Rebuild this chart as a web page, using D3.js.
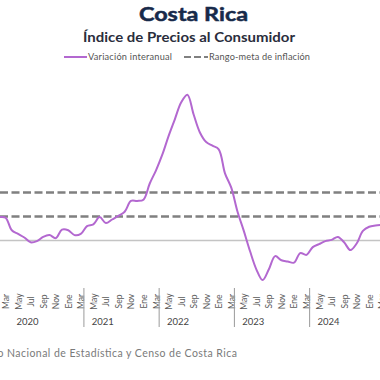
<!DOCTYPE html>
<html>
<head>
<meta charset="utf-8">
<script src="https://cdn.jsdelivr.net/npm/d3@7"></script>
<style>
  body { margin: 0; background: #fff; overflow: hidden; }
  svg { display: block; font-family: Lato, 'DejaVu Sans', sans-serif; }
</style>
</head>
<body>
<div id="graf"></div>
<script>
// datos: variación interanual del IPC, mensual desde Ene 2020
const meses = ['Ene', 'Feb', 'Mar', 'Abr', 'May', 'Jun', 'Jul', 'Ago', 'Sep', 'Oct', 'Nov', 'Dic']
const anios = [2020, 2021, 2022, 2023, 2024]
const variacion = [
  1.8, 1.95, 1.9, 0.85, 0.55, 0.25, -0.15, -0.05, 0.3, 0.45, 0.2, 0.9,
  0.85, 0.45, 0.55, 1.2, 1.35, 1.95, 1.45, 1.75, 2.05, 2.4, 3.3, 3.3,
  3.4, 4.75, 5.85, 7.15, 8.7, 10.1, 11.5, 12.15, 10.5, 9.0, 8.2, 7.9,
  7.6, 5.6, 4.4, 2.4, 0.8, -0.9, -2.4, -3.3, -2.4, -1.3, -1.65, -1.75,
  -1.85, -1.05, -1.2, -0.55, -0.3, -0.05, 0.05, 0.3, -0.15, -0.8, -0.25, 0.8,
  1.15, 1.25, 1.3
]
const rangoMeta = [2, 4]

const ancho = 380
const alto = 380

const svg = d3.select('#graf')
  .append('svg')
  .attr('width', ancho)
  .attr('height', alto)

// escalas (el gráfico original está recortado a la izquierda y derecha)
const x = d3.scaleLinear()
  .domain([0, 62])
  .range([-7, -7 + 6.27 * 62])

const y = d3.scaleLinear()
  .domain([-4, 13])
  .range([240.5 + 48, 240.5 - 156])

// títulos
svg.append('text')
  .attr('x', 193.5).attr('y', 20.7)
  .attr('text-anchor', 'middle')
  .attr('font-size', 19.5).attr('font-weight', 'bold')
  .attr('fill', '#172a4a')
  .attr('textLength', 109)
  .attr('lengthAdjust', 'spacingAndGlyphs')
  .attr('stroke', '#172a4a').attr('stroke-width', 0.5)
  .text('Costa Rica')

svg.append('text')
  .attr('x', 189).attr('y', 41.5)
  .attr('text-anchor', 'middle')
  .attr('font-size', 12.5).attr('font-weight', 'bold')
  .attr('fill', '#2a2d3c')
  .attr('textLength', 212)
  .attr('lengthAdjust', 'spacingAndGlyphs')
  .text('Índice de Precios al Consumidor')

// leyenda
const leyenda = svg.append('g')
leyenda.append('line')
  .attr('x1', 64).attr('x2', 87).attr('y1', 57).attr('y2', 57)
  .attr('stroke', '#b368d0').attr('stroke-width', 2)
leyenda.append('text')
  .attr('x', 88).attr('y', 60)
  .attr('font-size', 9.2).attr('fill', '#555')
  .attr('textLength', 84)
  .text('Variación interanual')
leyenda.append('line')
  .attr('x1', 184).attr('x2', 208).attr('y1', 57).attr('y2', 57)
  .attr('stroke', '#808080').attr('stroke-width', 2)
  .attr('stroke-dasharray', '7,3')
leyenda.append('text')
  .attr('x', 209).attr('y', 60)
  .attr('font-size', 9.2).attr('fill', '#555')
  .attr('textLength', 101)
  .text('Rango-meta de inflación')

// línea de cero
svg.append('line')
  .attr('x1', 0).attr('x2', ancho)
  .attr('y1', y(0)).attr('y2', y(0))
  .attr('stroke', '#c4c4c4').attr('stroke-width', 1.5)

// rango meta
svg.selectAll('.meta')
  .data(rangoMeta)
  .enter()
  .append('line')
  .attr('class', 'meta')
  .attr('x1', 0).attr('x2', ancho)
  .attr('y1', d => y(d)).attr('y2', d => y(d))
  .attr('stroke', '#808080').attr('stroke-width', 2.6)
  .attr('stroke-dasharray', '8,3.5')

// serie
const linea = d3.line()
  .x((d, i) => x(i))
  .y(d => y(d))
  .curve(d3.curveCatmullRom.alpha(0.5))

svg.append('path')
  .datum(variacion)
  .attr('d', linea)
  .attr('fill', 'none')
  .attr('stroke', '#b368d0')
  .attr('stroke-width', 2)

// eje de meses
const ticksMes = d3.range(2, 63, 2)
const ejeX = svg.append('g')
  .attr('transform', 'translate(0, 301.5)')
  .call(
    d3.axisBottom(x)
      .tickValues(ticksMes)
      .tickSize(0)
      .tickFormat(d => meses[d % 12])
  )
ejeX.select('.domain').remove()
ejeX.selectAll('text')
  .attr('x', 0).attr('y', 0)
  .attr('dy', '0.35em')
  .attr('text-anchor', 'middle')
  .attr('transform', 'rotate(-90)')
  .attr('font-family', 'Lato, sans-serif')
  .attr('font-size', 8.5)
  .attr('fill', '#5a5a5a')

// separadores de año y etiquetas
svg.selectAll('.sep')
  .data(anios.slice(1))
  .enter()
  .append('line')
  .attr('class', 'sep')
  .attr('x1', (d, i) => x(14.5 + 12 * i)).attr('x2', (d, i) => x(14.5 + 12 * i))
  .attr('y1', 288).attr('y2', 327)
  .attr('stroke', '#9a9a9a').attr('stroke-width', 1)

svg.selectAll('.anio')
  .data(anios)
  .enter()
  .append('text')
  .attr('class', 'anio')
  .attr('x', (d, i) => x(5.5 + 12 * i))
  .attr('y', 325)
  .attr('text-anchor', 'middle')
  .attr('font-size', 9.5)
  .attr('fill', '#444')
  .text(d => d)

// fuente
svg.append('text')
  .attr('x', 3.5).attr('y', 357)
  .attr('text-anchor', 'end')
  .attr('font-size', 10.5).attr('fill', '#7a7a7a')
  .text('Fuente: Instituto')
svg.append('text')
  .attr('x', 7).attr('y', 357)
  .attr('font-size', 10.5).attr('fill', '#7a7a7a')
  .attr('textLength', 230)
  .text('Nacional de Estadística y Censo de Costa Rica')
</script>
</body>
</html>
